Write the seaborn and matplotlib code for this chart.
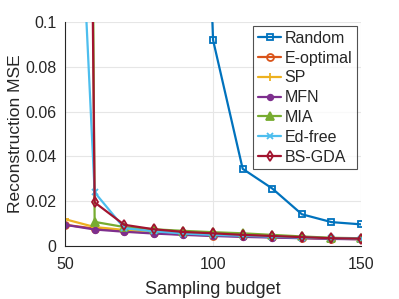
import numpy as np
import pandas as pd
import matplotlib
matplotlib.use("Agg")
import matplotlib.pyplot as plt
import seaborn as sns

# 采样预算
budget = [50, 60, 70, 80, 90, 100, 110, 120, 130, 140, 150]

# 各方法的重建 MSE
mse_random = [3.0, 1.5, 0.8, 0.5, 0.45, 0.092, 0.0345, 0.0257, 0.0142, 0.0107, 0.0097]
mse_eopt = [0.0095, 0.0078, 0.0068, 0.0058, 0.0052, 0.0047, 0.0044, 0.0040, 0.0036, 0.0033, 0.0031]
mse_sp = [0.0120, 0.0085, 0.0072, 0.0062, 0.0055, 0.0050, 0.0046, 0.0042, 0.0038, 0.0035, 0.0032]
mse_mfn = [0.0095, 0.0074, 0.0064, 0.0056, 0.0050, 0.0045, 0.0041, 0.0038, 0.0035, 0.0032, 0.0030]
mse_mia = [2.0, 0.0108, 0.0085, 0.0075, 0.0068, 0.0062, 0.0057, 0.0050, 0.0043, 0.0037, 0.0035]
mse_edfree = [0.30, 0.0240, 0.0080, 0.0066, 0.0056, 0.0050, 0.0046, 0.0042, 0.0038, 0.0035, 0.0033]
mse_bsgda = [1.36, 0.0195, 0.0095, 0.0075, 0.0063, 0.0057, 0.0050, 0.0045, 0.0040, 0.0035, 0.0033]

methods = ["Random", "E-optimal", "SP", "MFN", "MIA", "Ed-free", "BS-GDA"]
all_mse = [mse_random, mse_eopt, mse_sp, mse_mfn, mse_mia, mse_edfree, mse_bsgda]

colors = ["#0072BD", "#D95319", "#EDB120", "#7E2F8E", "#77AC30", "#4DBEEE", "#A2142F"]
markers = ["s", "o", "+", "o", "^", "x", "d"]
filled = [False, False, True, True, True, True, False]
msizes = [5, 5, 6, 4, 6, 4, 5]

df = pd.DataFrame({
    "budget": budget * len(methods),
    "mse": sum(all_mse, []),
    "method": np.repeat(methods, len(budget)),
})

sns.set_style("white")
plt.rcParams["font.family"] = ["Liberation Sans", "DejaVu Sans"]

fig = plt.figure(figsize=(3.99, 2.99), dpi=100)
ax = fig.add_axes([0.163, 0.177, 0.742, 0.749])

for m, c, mk, f, ms in zip(methods, colors, markers, filled, msizes):
    sub = df[df["method"] == m]
    sns.lineplot(data=sub, x="budget", y="mse", ax=ax, color=c, marker=mk,
                 markersize=ms, linewidth=1.6, label=m,
                 markerfacecolor=(c if f else "none"), markeredgecolor=c,
                 markeredgewidth=1.3)

ax.set_xlim(50, 150)
ax.set_ylim(0, 0.1)
ax.set_xticks([50, 100, 150])
ax.set_yticks([0, 0.02, 0.04, 0.06, 0.08, 0.1])
ax.set_yticklabels(["0", "0.02", "0.04", "0.06", "0.08", "0.1"])
ax.grid(True, color="#e6e6e6", linewidth=0.8)
ax.set_axisbelow(True)
for s in ["top", "right"]:
    ax.spines[s].set_visible(False)
for s in ["left", "bottom"]:
    ax.spines[s].set_color("#262626")
    ax.spines[s].set_linewidth(0.8)
ax.tick_params(axis="both", labelsize=11.5, direction="in", length=3, colors="#262626")
ax.tick_params(axis="x", pad=8)
ax.tick_params(axis="y", pad=6)
ax.set_xlabel("Sampling budget", fontsize=13, labelpad=6)
ax.set_ylabel("Reconstruction MSE", fontsize=12.5, labelpad=2)

leg = ax.legend(loc="upper right", fontsize=11.5, frameon=True, fancybox=False,
                handlelength=1.5, handletextpad=0.2, borderpad=0.3,
                labelspacing=0.3, borderaxespad=0.25)
leg.get_frame().set_edgecolor("#262626")
leg.get_frame().set_linewidth(0.8)

fig.savefig("out.png", dpi=100)
